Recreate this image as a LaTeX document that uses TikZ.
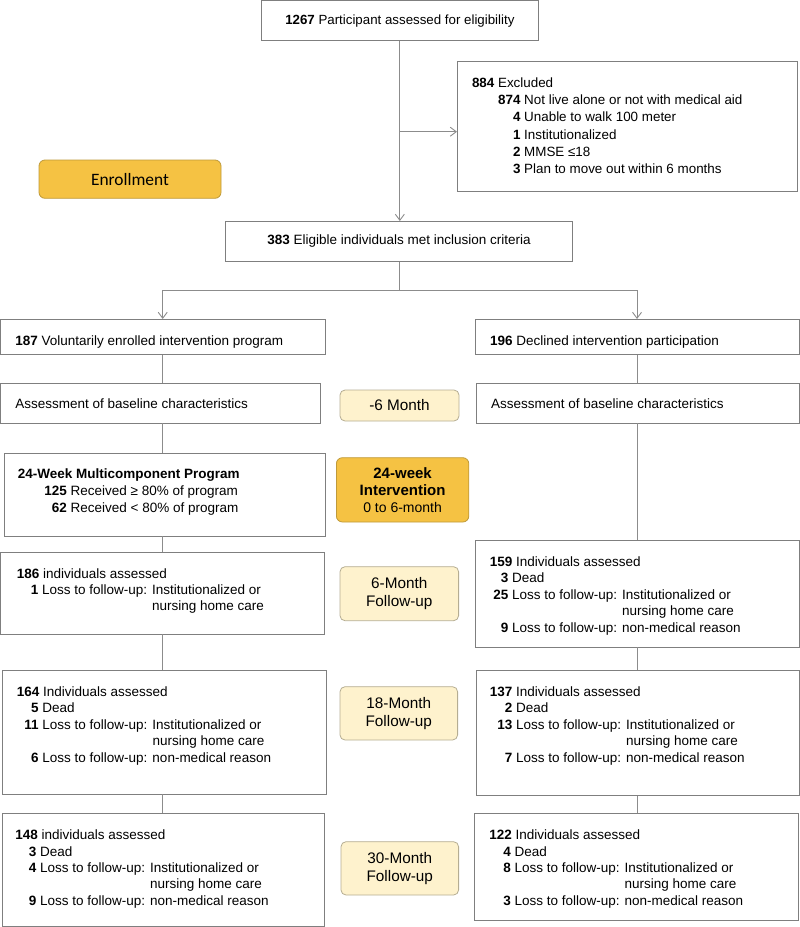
\documentclass[tikz,border=0pt]{standalone}
\usepackage{fontspec}
\setmainfont{Liberation Sans}
\newfontfamily\calfont{Carlito}
\usetikzlibrary{arrows.meta}
\definecolor{boxc}{HTML}{7F7F7F}
\definecolor{linec}{HTML}{8C8C8C}
\definecolor{orangef}{HTML}{F5C243}
\definecolor{oranged}{HTML}{BF9A3A}
\definecolor{lightf}{HTML}{FEF2CD}
\definecolor{lightd}{HTML}{B5AD92}
\newcommand\numc[2]{\makebox[#1][r]{\textbf{#2}}}
\newcommand\mkbox[7]{\node[#1, anchor=north west, minimum width={#5-#3}, minimum height={#6-#4}] (#2) at (#3,#4) {#7};}
\tikzset{
  box/.style={draw=boxc, line width=0.9pt, fill=white, inner sep=0pt, outer sep=0pt, font=\fontsize{13.3}{16.4}\selectfont},
  lbl/.style={draw=lightd, line width=0.8pt, fill=lightf, rounded corners=5pt, inner sep=0pt, outer sep=0pt, align=center, font=\fontsize{15.3}{17.5}\selectfont},
  obox/.style={draw=oranged, line width=0.8pt, fill=orangef, rounded corners=6pt, inner sep=0pt, outer sep=0pt, align=center},
  txt/.style={inner sep=0pt, outer sep=0pt, anchor=base west, font=\fontsize{13.5}{16.4}\selectfont},
  conn/.style={draw=linec, line width=0.9pt},
  arr/.style={conn, -{Straight Barb[length=6pt,width=9pt]}},
}
\begin{document}
\begin{tikzpicture}[x=1pt,y=-1pt]
\useasboundingbox (0,0) rectangle (800,927);
% boxes
\mkbox{box}{top}{261}{0.6}{538.7}{40.7}{\textbf{1267} Participant assessed for eligibility}
\mkbox{box}{excl}{457}{61}{797.3}{191}{}
\mkbox{obox, font=\calfont\fontsize{17.4}{20}\selectfont}{enroll}{39}{160}{221}{198.3}{Enrollment}
\mkbox{box, font=\fontsize{13.5}{16.4}\selectfont}{b383}{225.7}{221}{572.3}{261.7}{\textbf{383} Eligible individuals met inclusion criteria}
\mkbox{box}{b187}{0.6}{319}{325}{354.5}{}
\mkbox{box}{b196}{475.5}{319}{799.4}{354.5}{}
\mkbox{box}{baseL}{0.6}{383}{320.5}{423}{}
\mkbox{box}{baseR}{476.5}{383}{799.4}{423}{}
\mkbox{lbl}{m6}{340}{390}{459}{421}{-6 Month}
\mkbox{box}{prog}{4}{453}{325.7}{536}{}
\mkbox{obox, font=\fontsize{15}{17.2}\selectfont}{interv}{336.4}{457.7}{468.8}{522}{\textbf{24-week}\\\textbf{Intervention}\\\fontsize{14}{17.2}\selectfont 0 to 6-month}
\mkbox{box}{b186}{0.6}{552.3}{324.6}{634.3}{}
\mkbox{box}{b159}{475.5}{540}{799.4}{647.3}{}
\mkbox{lbl}{f6}{340}{566.7}{458.6}{620.7}{6-Month\\Follow-up}
\mkbox{box}{b164}{2.6}{670}{326}{794}{}
\mkbox{box}{b137}{476.5}{670}{799.4}{795.7}{}
\mkbox{lbl}{f18}{340}{686.7}{457.6}{740}{18-Month\\Follow-up}
\mkbox{box}{b148}{2.6}{813.3}{324.6}{926.4}{}
\mkbox{box}{b122}{474.4}{813.3}{798.6}{920.7}{}
\mkbox{lbl}{f30}{341}{841.7}{458.6}{895}{30-Month\\Follow-up}
% texts
\node[txt] (texc) at (472,87.4) {\fontsize{13.4}{17.2}\selectfont\begin{tabular}[t]{@{}l@{}}\textbf{884} Excluded\\
\numc{48.5pt}{874} Not live alone or not with medical aid\\
\numc{48.5pt}{4} Unable to walk 100 meter\\
\numc{48.5pt}{1} Institutionalized\\
\numc{48.5pt}{2} MMSE ≤18\\
\numc{48.5pt}{3} Plan to move out within 6 months\end{tabular}};
\node[txt] (t187) at (15.3,345.4) {\textbf{187} Voluntarily enrolled intervention program};
\node[txt] (t196) at (490,345.4) {\textbf{196} Declined intervention participation};
\node[txt] (tbl) at (15.3,408.7) {Assessment of baseline characteristics};
\node[txt] (tbr) at (491,408.7) {Assessment of baseline characteristics};
\node[txt] (tprog) at (17.9,478.4) {\fontsize{13.5}{17.2}\selectfont\begin{tabular}[t]{@{}l@{}}\textbf{24-Week Multicomponent Program}\\
\numc{49pt}{125} Received ≥ 80\% of program\\
\numc{49pt}{62} Received < 80\% of program\end{tabular}};
\node[txt] (t186) at (16.9,578.4) {\fontsize{13.5}{15.8}\selectfont\begin{tabular}[t]{@{}l@{ }l@{}}\multicolumn{2}{@{}l@{}}{\textbf{186} individuals assessed}\\
\numc{21.5pt}{1} Loss to follow-up: & Institutionalized or\\
 & nursing home care\end{tabular}};
\node[txt] (t159) at (489.8,566.4) {\begin{tabular}[t]{@{}l@{ }l@{}}\multicolumn{2}{@{}l@{}}{\textbf{159} Individuals assessed}\\
\numc{18.5pt}{3} Dead & \\
\numc{18.5pt}{25} Loss to follow-up: & Institutionalized or\\
 & nursing home care\\
\numc{18.5pt}{9} Loss to follow-up: & non-medical reason\end{tabular}};
\node[txt] (t164) at (16.9,696.4) {\begin{tabular}[t]{@{}l@{ }l@{}}\multicolumn{2}{@{}l@{}}{\textbf{164} Individuals assessed}\\
\numc{21.8pt}{5} Dead & \\
\numc{21.8pt}{11} Loss to follow-up: & Institutionalized or\\
 & nursing home care\\
\numc{21.8pt}{6} Loss to follow-up: & non-medical reason\end{tabular}};
\node[txt] (t137) at (489.8,696.4) {\begin{tabular}[t]{@{}l@{ }l@{}}\multicolumn{2}{@{}l@{}}{\textbf{137} Individuals assessed}\\
\numc{22.5pt}{2} Dead & \\
\numc{22.5pt}{13} Loss to follow-up: & Institutionalized or\\
 & nursing home care\\
\numc{22.5pt}{7} Loss to follow-up: & non-medical reason\end{tabular}};
\node[txt] (t148) at (15.3,839.7) {\begin{tabular}[t]{@{}l@{ }l@{}}\multicolumn{2}{@{}l@{}}{\textbf{148} individuals assessed}\\
\numc{21pt}{3} Dead & \\
\numc{21pt}{4} Loss to follow-up: & Institutionalized or\\
 & nursing home care\\
\numc{21pt}{9} Loss to follow-up: & non-medical reason\end{tabular}};
\node[txt] (t122) at (489.3,839.7) {\begin{tabular}[t]{@{}l@{ }l@{}}\multicolumn{2}{@{}l@{}}{\textbf{122} Individuals assessed}\\
\numc{21.6pt}{4} Dead & \\
\numc{21.6pt}{8} Loss to follow-up: & Institutionalized or\\
 & nursing home care\\
\numc{21.6pt}{3} Loss to follow-up: & non-medical reason\end{tabular}};
% connectors
\coordinate (exin) at (457,131.7);
\coordinate (split) at (399.3,290.3);
\coordinate (lx) at (162.7,0);
\coordinate (rx) at (637,0);
\draw[arr] (top.south) -- (top.south |- b383.north);
\draw[arr] (top.south |- exin) -- (exin);
\draw[conn] (b383.south) -- (b383.south |- split);
\draw[arr] (b383.south |- split) -| (lx |- b187.north);
\draw[arr] (b383.south |- split) -| (rx |- b196.north);
\draw[conn] (lx |- b187.south) -- (lx |- baseL.north);
\draw[conn] (lx |- baseL.south) -- (lx |- prog.north);
\draw[conn] (lx |- prog.south) -- (lx |- b186.north);
\draw[conn] (lx |- b186.south) -- (lx |- b164.north);
\draw[conn] (lx |- b164.south) -- (lx |- b148.north);
\draw[conn] (rx |- b196.south) -- (rx |- baseR.north);
\draw[conn] (rx |- baseR.south) -- (rx |- b159.north);
\draw[conn] (rx |- b159.south) -- (rx |- b137.north);
\draw[conn] (rx |- b137.south) -- (rx |- b122.north);
\end{tikzpicture}
\end{document}
